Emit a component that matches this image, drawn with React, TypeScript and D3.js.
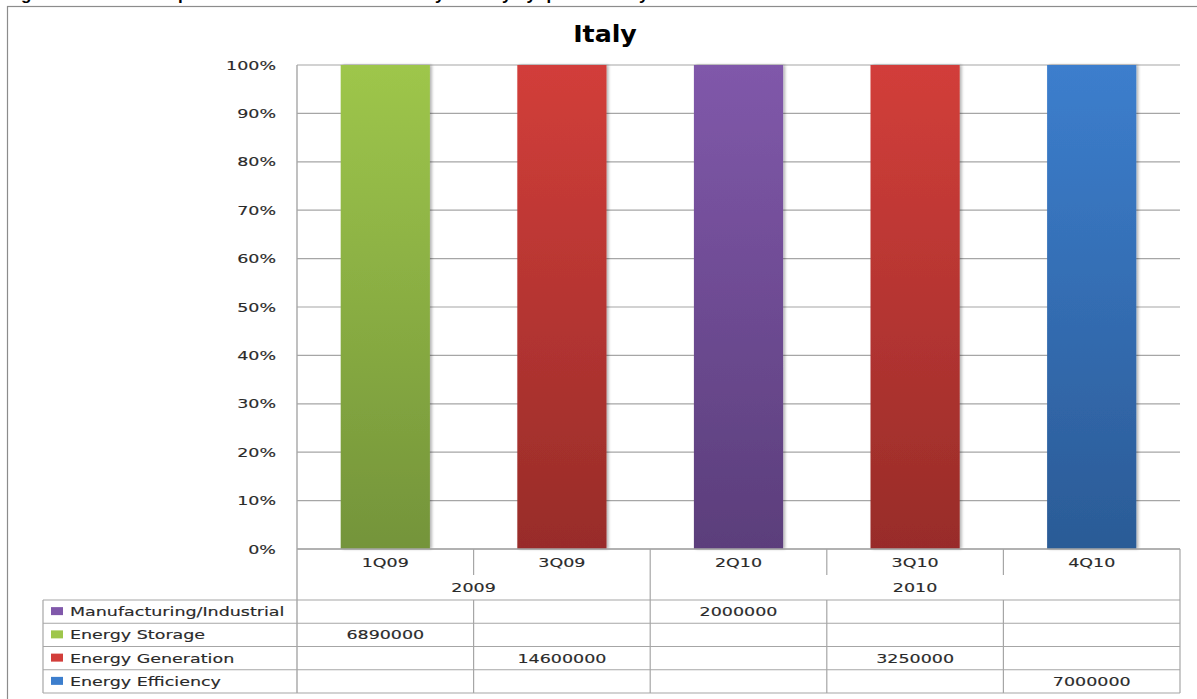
import React from "react";
import * as d3 from "d3";

const categories = ["1Q09", "3Q09", "2Q10", "3Q10", "4Q10"];
const categoryYears = ["2009", "2009", "2010", "2010", "2010"];
const yearLabels = ["2009", "2010"];

const manufacturingIndustrial = [null, null, 2000000, null, null];
const energyStorage = [6890000, null, null, null, null];
const energyGeneration = [null, 14600000, null, 3250000, null];
const energyEfficiency = [null, null, null, null, 7000000];

const seriesNames = ["Manufacturing/Industrial", "Energy Storage", "Energy Generation", "Energy Efficiency"];
const seriesValues = [manufacturingIndustrial, energyStorage, energyGeneration, energyEfficiency];
const seriesColors = [
  ["#8058aa", "#5b3e7b"],
  ["#9ec64b", "#74943a"],
  ["#d23e3a", "#982c29"],
  ["#3c7ecd", "#2b5b96"],
];

const title = "Italy";
const caption = "Figure 17: Venture capital investments in cleantech by country by quarter - Italy";

const W = 1197;
const H = 699;
const plot = { left: 297, right: 1180, top: 65, bottom: 549 };
const tableLeft = 43;
const tableTop = 600;
const rowH = 23.25;
const SX = 1.4;
const FONT = "'DejaVu Sans', Verdana, sans-serif";
const GRID = "#a6a6a6";
const TXT = "#2a2a2a";

export default function App() {
  const rows = categories.map((c, i) => {
    const r: any = { cat: c };
    seriesNames.forEach((s, j) => (r[s] = seriesValues[j][i] ?? 0));
    return r;
  });
  const stackOrder = [...seriesNames].reverse();
  const stacked = d3
    .stack<any>()
    .keys(stackOrder)
    .offset(d3.stackOffsetExpand)(rows);

  const x = d3.scaleBand<string>().domain(categories).range([plot.left, plot.right]).paddingInner(0).paddingOuter(0);
  const y = d3.scaleLinear().domain([0, 1]).range([plot.bottom, plot.top]);
  const ticks = y.ticks(10);
  const fmt = d3.format(".0%");
  const barW = x.bandwidth() * 0.505;

  const yearSpans = yearLabels.map((yl) => {
    const cats = categories.filter((_, i) => categoryYears[i] === yl);
    const x0 = x(cats[0])!;
    const x1 = x(cats[cats.length - 1])! + x.bandwidth();
    return { yl, x0, x1 };
  });

  const tableBottom = tableTop + rowH * seriesNames.length;

  const sText = (tx: number, ty: number, s: string, anchor: string, size = 12.5) => (
    <text
      key={`${s}-${tx}-${ty}`}
      transform={`translate(${tx},${ty}) scale(${SX},1)`}
      textAnchor={anchor}
      fontFamily={FONT}
      fontSize={size}
      fill={TXT}
      stroke={TXT}
      strokeWidth={0.15}
    >
      {s}
    </text>
  );

  return (
    <svg width={W} height={H} style={{ position: "absolute", left: 0, top: 0, background: "#fff" }}>
      <defs>
        {seriesNames.map((s, j) => (
          <linearGradient key={s} id={`g${j}`} x1="0" y1="0" x2="0" y2="1">
            <stop offset="0%" stopColor={seriesColors[j][0]} />
            <stop offset="100%" stopColor={seriesColors[j][1]} />
          </linearGradient>
        ))}
        <filter id="sh" x="-10%" y="-5%" width="130%" height="110%">
          <feGaussianBlur in="SourceAlpha" stdDeviation="1.5" />
          <feOffset dx="1.5" dy="0" result="b" />
          <feComponentTransfer>
            <feFuncA type="linear" slope="0.3" />
          </feComponentTransfer>
          <feMerge>
            <feMergeNode />
            <feMergeNode in="SourceGraphic" />
          </feMerge>
        </filter>
      </defs>

      {/* caption, cut at top as in the reference */}
      <text x={6} y={0} fontFamily="'Liberation Sans', Arial, sans-serif" fontWeight="bold" fontSize={17} fill="#000">
        {caption}
      </text>

      {/* outer frame */}
      <rect x={7.5} y={6.5} width={1300} height={800} fill="none" stroke="#8c8c8c" strokeWidth={1.2} />

      {/* title */}
      <text
        transform={`translate(605,42) scale(1.1,1)`}
        textAnchor="middle"
        fontFamily={FONT}
        fontWeight="bold"
        fontSize={23}
        fill="#000"
      >
        {title}
      </text>

      {/* gridlines */}
      {ticks.map((t) => (
        <line key={t} x1={plot.left} x2={plot.right} y1={y(t)} y2={y(t)} stroke={GRID} strokeWidth={1.2} />
      ))}
      {/* y labels */}
      {ticks.map((t) => sText(276, y(t) + 4.5, fmt(t), "end"))}

      {/* bars */}
      {stacked.map((layer) => {
        const j = seriesNames.indexOf(layer.key);
        return layer.map((d, i) => {
          const h = y(d[0]) - y(d[1]);
          if (h <= 0) return null;
          const cx = x(categories[i])! + x.bandwidth() / 2;
          return (
            <rect
              key={`${layer.key}-${i}`}
              x={cx - barW / 2}
              y={y(d[1])}
              width={barW}
              height={h}
              fill={`url(#g${j})`}
              filter="url(#sh)"
            />
          );
        });
      })}

      {/* axis lines */}
      <line x1={plot.left} x2={plot.left} y1={plot.top} y2={tableBottom} stroke={GRID} strokeWidth={1.4} />
      <line x1={plot.left} x2={plot.right} y1={plot.bottom} y2={plot.bottom} stroke={GRID} strokeWidth={1.4} />

      {/* category separators */}
      {categories.map((c, i) => {
        const xr = x(c)! + x.bandwidth();
        const isYearEnd = i === categories.length - 1 || categoryYears[i] !== categoryYears[i + 1];
        return (
          <g key={c}>
            <line x1={xr} x2={xr} y1={plot.bottom} y2={isYearEnd ? tableBottom : plot.bottom + 26} stroke={GRID} strokeWidth={1.2} />
            {!isYearEnd && <line x1={xr} x2={xr} y1={tableTop} y2={tableBottom} stroke={GRID} strokeWidth={1.2} />}
          </g>
        );
      })}

      {/* category labels */}
      {categories.map((c) => sText(x(c)! + x.bandwidth() / 2, 567, c, "middle"))}
      {/* year labels */}
      {yearSpans.map((ys) => sText((ys.x0 + ys.x1) / 2, 592, ys.yl, "middle"))}

      {/* table */}
      {d3.range(seriesNames.length + 1).map((k) => (
        <line key={k} x1={tableLeft} x2={plot.right} y1={tableTop + k * rowH} y2={tableTop + k * rowH} stroke={GRID} strokeWidth={1.2} />
      ))}
      <line x1={tableLeft} x2={tableLeft} y1={tableTop} y2={tableBottom} stroke={GRID} strokeWidth={1.2} />

      {seriesNames.map((s, j) => {
        const cy = tableTop + j * rowH + rowH / 2;
        return (
          <g key={s}>
            <rect x={51} y={cy - 4.5} width={12} height={8} fill={seriesColors[j][0]} />
            {sText(70, cy + 4.5, s, "start")}
            {seriesValues[j].map((v, i) =>
              v == null ? null : sText(x(categories[i])! + x.bandwidth() / 2, cy + 4.5, String(v), "middle")
            )}
          </g>
        );
      })}
    </svg>
  );
}
